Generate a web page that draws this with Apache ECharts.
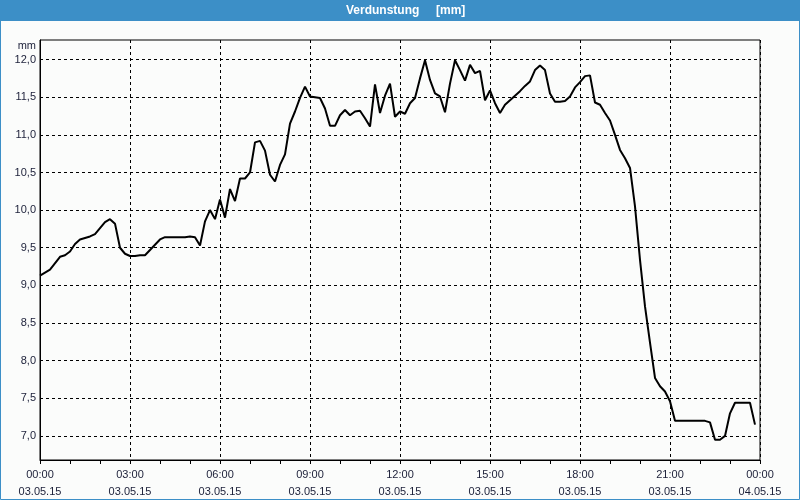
<!DOCTYPE html>
<html>
<head>
<meta charset="utf-8">
<script src="https://cdn.jsdelivr.net/npm/echarts@6/dist/echarts.min.js"></script>
<style>
html,body{margin:0;padding:0;background:#fbfcfb;}
#chart{width:800px;height:500px;}
</style>
</head>
<body>
<div id="chart"></div>
<script>
// ---- data ----
const chartTitle = 'Verdunstung     [mm]';
const unitLabel = 'mm';
// minutes since 03.05.15 00:00
const minutes = [
  0, 20, 40, 50, 60, 70, 80, 90, 100, 110, 120, 130, 140, 150, 160, 170, 180, 190, 200, 210,
  220, 230, 240, 250, 260, 270, 280, 290, 300, 310, 320, 330, 340, 350, 360, 370, 380, 390, 400, 410,
  420, 430, 440, 450, 460, 470, 480, 490, 500, 510, 520, 530, 540, 550, 560, 570, 580, 590, 600, 610,
  620, 630, 640, 650, 660, 670, 680, 690, 700, 710, 720, 730, 740, 750, 760, 770, 780, 790, 800, 810,
  820, 830, 840, 850, 860, 870, 880, 890, 900, 910, 920, 930, 940, 950, 960, 970, 980, 990, 1000, 1010,
  1020, 1030, 1040, 1050, 1060, 1070, 1080, 1090, 1100, 1110, 1120, 1130, 1140, 1150, 1160, 1170, 1180, 1190, 1200, 1210,
  1220, 1230, 1240, 1250, 1260, 1270, 1280, 1290, 1300, 1310, 1320, 1330, 1340, 1350, 1360, 1370, 1380, 1390, 1400, 1410,
  1420, 1430
];
const evaporation = [
  9.13, 9.21, 9.38, 9.40, 9.45, 9.55, 9.61, 9.63, 9.65, 9.68, 9.76, 9.84, 9.88, 9.82, 9.50, 9.42, 9.39, 9.39, 9.40, 9.40,
  9.47, 9.54, 9.61, 9.64, 9.64, 9.64, 9.64, 9.64, 9.65, 9.64, 9.53, 9.85, 10.00, 9.88, 10.14, 9.90, 10.28, 10.12, 10.42, 10.42,
  10.50, 10.90, 10.92, 10.79, 10.47, 10.38, 10.60, 10.74, 11.15, 11.31, 11.49, 11.64, 11.51, 11.50, 11.49, 11.35, 11.12, 11.12, 11.26, 11.33,
  11.26, 11.31, 11.32, 11.22, 11.11, 11.67, 11.29, 11.52, 11.68, 11.24, 11.31, 11.28, 11.42, 11.49, 11.75, 11.99, 11.73, 11.55, 11.51, 11.30,
  11.68, 11.99, 11.86, 11.72, 11.93, 11.82, 11.85, 11.46, 11.59, 11.42, 11.29, 11.40, 11.46, 11.52, 11.58, 11.65, 11.71, 11.86, 11.92, 11.86,
  11.55, 11.44, 11.44, 11.45, 11.51, 11.63, 11.70, 11.78, 11.79, 11.43, 11.40, 11.29, 11.19, 11.00, 10.80, 10.69, 10.56, 10.05, 9.34, 8.72,
  8.24, 7.77, 7.66, 7.59, 7.46, 7.20, 7.20, 7.20, 7.20, 7.20, 7.20, 7.20, 7.18, 6.95, 6.95, 7.00, 7.30, 7.44, 7.44, 7.44,
  7.44, 7.15
];
const timeLabels = ['00:00','03:00','06:00','09:00','12:00','15:00','18:00','21:00','00:00'];
const dateLabels = ['03.05.15','03.05.15','03.05.15','03.05.15','03.05.15','03.05.15','03.05.15','03.05.15','04.05.15'];
const yTicks = [7.0, 7.5, 8.0, 8.5, 9.0, 9.5, 10.0, 10.5, 11.0, 11.5, 12.0];

// ---- chart ----
const seriesData = minutes.map((m, i) => [m, evaporation[i]]);
const font = "'Liberation Sans', Arial, sans-serif";
const txtColor = '#1b1f38';
const blue = '#3c8fc7';

const chart = echarts.init(document.getElementById('chart'), null, {renderer: 'canvas'});
chart.setOption({
  animation: false,
  backgroundColor: '#fbfcfb',
  title: {
    text: chartTitle,
    left: 346,
    top: 4,
    padding: 0,
    textStyle: {color: '#ffffff', fontFamily: font, fontSize: 12, fontWeight: 'bold', lineHeight: 14}
  },
  graphic: [
    {type: 'rect', z: -1, shape: {x: 0, y: 0, width: 800, height: 21}, style: {fill: blue}},
    {type: 'rect', z: 100, silent: true, shape: {x: 0.5, y: 0.5, width: 799, height: 499}, style: {fill: null, stroke: blue, lineWidth: 1}}
  ],
  grid: {
    left: 40, right: 40, top: 40, bottom: 39,
    show: true, borderColor: '#000', borderWidth: 1, backgroundColor: 'transparent'
  },
  xAxis: {
    type: 'value',
    min: 0, max: 1440, interval: 180,
    axisLine: {lineStyle: {color: '#000', width: 1}},
    axisTick: {show: true, length: 4, lineStyle: {color: '#000'}},
    minorTick: {show: true, splitNumber: 3, length: 4, lineStyle: {color: '#000'}},
    splitLine: {show: true, lineStyle: {color: '#000', type: [3, 3], width: 1}},
    axisLabel: {
      margin: 6,
      color: txtColor, fontFamily: font, fontSize: 11, lineHeight: 17,
      formatter: v => {
        const i = Math.round(v / 180);
        return timeLabels[i] + '\n' + dateLabels[i];
      }
    }
  },
  yAxis: {
    type: 'value',
    min: 6.68, max: 12.26,
    name: unitLabel,
    nameLocation: 'end',
    nameGap: -6,
    nameTextStyle: {color: txtColor, fontFamily: font, fontSize: 11, align: 'right', verticalAlign: 'middle', padding: [0, 4, 0, 0]},
    axisLine: {show: true, lineStyle: {color: '#000', width: 1}},
    axisTick: {show: false, customValues: yTicks},
    splitLine: {show: true, lineStyle: {color: '#000', type: [3, 3], width: 1}},
    axisLabel: {
      customValues: yTicks,
      margin: 4,
      color: txtColor, fontFamily: font, fontSize: 11,
      formatter: v => v.toFixed(1).replace('.', ',')
    }
  },
  series: [{
    type: 'line',
    data: seriesData,
    showSymbol: false,
    symbol: 'none',
    lineStyle: {color: '#000', width: 2},
    z: 5
  }]
});
</script>
</body>
</html>
